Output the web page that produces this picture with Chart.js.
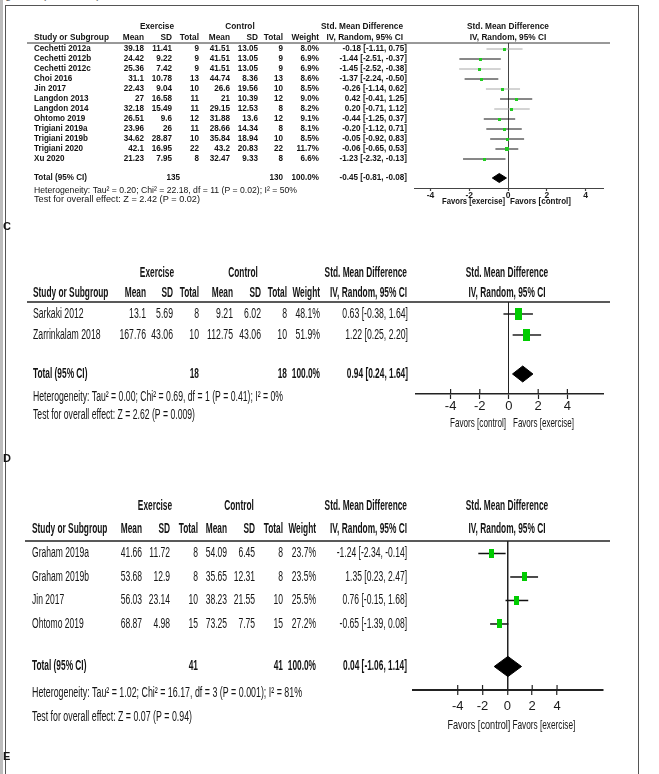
<!DOCTYPE html>
<html><head><meta charset="utf-8">
<script src="https://cdn.jsdelivr.net/npm/chart.js@4/dist/chart.umd.min.js"></script>
<style>
html,body{margin:0;padding:0;background:#fff;}
#page{position:relative;width:659px;height:774px;overflow:hidden;background:#fff;}
#strip{position:absolute;left:0;top:0;width:3px;height:774px;background:#bdbdbd;}
#frame{position:absolute;left:5px;top:5px;width:632px;height:820px;border:1px solid #555;}
#cap{position:absolute;left:-4px;top:-11px;font:11px "Liberation Sans",Arial,sans-serif;color:#555;}
canvas{position:absolute;left:0;}
</style></head><body>
<div id="page"><div id="strip"></div><div id="frame"></div><div id="cap">Figure 3. (Continued)</div>
<canvas id="cC" width="659" height="240" style="top:0px;width:659px;height:240px"></canvas>
<canvas id="cD" width="659" height="250" style="top:240px;width:659px;height:250px"></canvas>
<canvas id="cE" width="659" height="284" style="top:490px;width:659px;height:284px"></canvas>
</div>
<script>
// ---------------- DATA: panel C ----------------
const studiesC = ['Cechetti 2012a','Cechetti 2012b','Cechetti 2012c','Choi 2016','Jin 2017','Langdon 2013','Langdon 2014','Ohtomo 2019','Trigiani 2019a','Trigiani 2019b','Trigiani 2020','Xu 2020'];
const exMeanC = [39.18,24.42,25.36,31.1,22.43,27,32.18,26.51,23.96,34.62,42.1,21.23];
const exSDC   = [11.41,9.22,7.42,10.78,9.04,16.58,15.49,9.6,26,28.87,16.95,7.95];
const exNC    = [9,9,9,13,10,11,11,12,11,10,22,8];
const ctMeanC = [41.51,41.51,41.51,44.74,26.6,21,29.15,31.88,28.66,35.84,43.2,32.47];
const ctSDC   = [13.05,13.05,13.05,8.36,19.56,10.39,12.53,13.6,14.34,18.94,20.83,9.33];
const ctNC    = [9,9,9,13,10,12,8,12,8,10,22,8];
const weightC = [8.0,6.9,6.9,8.6,8.5,9.0,8.2,9.1,8.1,8.5,11.7,6.6];
const smdC    = [-0.18,-1.44,-1.45,-1.37,-0.26,0.42,0.20,-0.44,-0.20,-0.05,-0.06,-1.23];
const loC     = [-1.11,-2.51,-2.52,-2.24,-1.14,-0.41,-0.71,-1.25,-1.12,-0.92,-0.65,-2.32];
const hiC     = [0.75,-0.37,-0.38,-0.50,0.62,1.25,1.12,0.37,0.71,0.83,0.53,-0.13];
const totalsC = [135,130];
const pooledC = [-0.45,-0.81,-0.08];
const hetC  = 'Heterogeneity: Tau² = 0.20; Chi² = 22.18, df = 11 (P = 0.02); I² = 50%';
const testC = 'Test for overall effect: Z = 2.42 (P = 0.02)';
const favorsC = ['Favors [exercise]','Favors [control]'];

// ---------------- DATA: panel D ----------------
const studiesD = ['Sarkaki 2012','Zarrinkalam 2018'];
const exMeanD = [13.1,167.76];
const exSDD   = [5.69,43.06];
const exND    = [8,10];
const ctMeanD = [9.21,112.75];
const ctSDD   = [6.02,43.06];
const ctND    = [8,10];
const weightD = [48.1,51.9];
const smdD    = [0.63,1.22];
const loD     = [-0.38,0.25];
const hiD     = [1.64,2.20];
const totalsD = [18,18];
const pooledD = [0.94,0.24,1.64];
const hetD  = 'Heterogeneity: Tau² = 0.00; Chi² = 0.69, df = 1 (P = 0.41); I² = 0%';
const testD = 'Test for overall effect: Z = 2.62 (P = 0.009)';
const favorsD = ['Favors [control]','Favors [exercise]'];

// ---------------- DATA: panel E ----------------
const studiesE = ['Graham 2019a','Graham 2019b','Jin 2017','Ohtomo 2019'];
const exMeanE = [41.66,53.68,56.03,68.87];
const exSDE   = [11.72,12.9,23.14,4.98];
const exNE    = [8,8,10,15];
const ctMeanE = [54.09,35.65,38.23,73.25];
const ctSDE   = [6.45,12.31,21.55,7.75];
const ctNE    = [8,8,10,15];
const weightE = [23.7,23.5,25.5,27.2];
const smdE    = [-1.24,1.35,0.76,-0.65];
const loE     = [-2.34,0.23,-0.15,-1.39];
const hiE     = [-0.14,2.47,1.68,0.08];
const totalsE = [41,41];
const pooledE = [0.04,-1.06,1.14];
const hetE  = 'Heterogeneity: Tau² = 1.02; Chi² = 16.17, df = 3 (P = 0.001); I² = 81%';
const testE = 'Test for overall effect: Z = 0.07 (P = 0.94)';
const favorsE = ['Favors [control]','Favors [exercise]'];

const tickValues = [-4,-2,0,2,4];
const colHeaders = ['Mean','SD','Total','Mean','SD','Total','Weight'];

// ---------------- LAYOUT / STYLE ----------------
const LS = '"Liberation Sans", Arial, sans-serif';
const layoutC = {
  id:'cC', H:240, top:43, bottom:188, left:414, right:603, axisH:30,
  xMin:-4.85, xMax:4.9, yMin:-0.6, yMax:13.9, totalRow:12.9, dHalf:0.45,
  h1:27, h2:38, het:191, test:200, fav:202, letter:'C', letterY:227,
  studyX:34, cols:[144,172,199,230,258,283,319,407], grpX:[157,240], smdHdrX:403, plotHdrX:508, totX:[180,283],
  ruleX0:27, ruleX1:610, ruleW:1, ruleColor:'#333',
  hdrFont:'bold 9px '+LS, hdrSx:0.92, rowFont:'bold 9px '+LS, rowSx:0.9, totFont:'bold 9px '+LS, totSx:0.9,
  noteFont:'9px '+LS, hetW:263, testW:166, favFont:'bold 9px '+LS, favW:[63,61], favGap:[3,2],
  tickFont:{family:'"Liberation Sans", Arial, sans-serif', size:8.5, weight:'bold'}, tickLen:3, tickPad:0, tickUp:0,
  axisW:1, axisColor:'#444', zeroColor:'#444', zeroW:1, ciW:1,
  ciColors:['#a8a8a8','#111','#a8a8a8','#111','#a8a8a8','#111','#a8a8a8','#111','#111','#111','#111','#111'],
  k:1.06, aspect:1, sqColor:'#22cc22'
};
const layoutD = {
  id:'cD', H:250, top:62, bottom:154, left:416, right:603, axisH:40,
  xMin:-6.37, xMax:6.44, yMin:-0.571, yMax:3.81, totalRow:2.857, dHalf:0.38,
  h1:33, h2:53, het:157, test:175, fav:183, letter:'D', letterY:219,
  studyX:33, cols:[146,173,199,233,261,287,320,408], grpX:[157,243], smdHdrX:407, plotHdrX:507, totX:[199,287],
  ruleX0:27, ruleX1:610, ruleW:1.5, ruleColor:'#222',
  hdrFont:'bold 14px '+LS, hdrSx:0.595, rowFont:'14px '+LS, rowSx:0.62, totFont:'bold 14px '+LS, totSx:0.595,
  noteFont:'14px '+LS, hetW:250, testW:162, favFont:'13.5px '+LS, favW:[56,61], favGap:[3,4],
  tickFont:{family:'"Liberation Sans", Arial, sans-serif', size:13}, tickLen:5, tickPad:0, tickUp:5,
  axisW:1.5, axisColor:'#222', zeroColor:'#222', zeroW:1, ciW:1.4,
  ciColors:null, k:1.0, aspect:1.7, sqColor:'#00cc00'
};
const layoutE = {
  id:'cE', H:284, top:51, bottom:200, left:413, right:603, axisH:45,
  xMin:-7.6, xMax:7.7, yMin:-0.532, yMax:5.81, totalRow:4.81, dHalf:0.43,
  h1:16, h2:39, het:203, test:227, fav:235, letter:'E', letterY:267,
  studyX:32, cols:[142,170,198,227,255,283,316,407], grpX:[155,239], smdHdrX:407, plotHdrX:507, totX:[198,283],
  ruleX0:25, ruleX1:610, ruleW:1.5, ruleColor:'#222',
  hdrFont:'bold 14px '+LS, hdrSx:0.595, rowFont:'14px '+LS, rowSx:0.61, totFont:'bold 14px '+LS, totSx:0.595,
  noteFont:'14px '+LS, hetW:270, testW:160, favFont:'13.5px '+LS, favW:[63,63], favGap:[-3,5],
  tickFont:{family:'"Liberation Sans", Arial, sans-serif', size:13}, tickLen:5, tickPad:4, tickUp:5,
  axisW:2, axisColor:'#222', zeroColor:'#222', zeroW:1.5, ciW:1.5,
  ciColors:null, k:1.0, aspect:1.8, sqColor:'#00cc00'
};

// ---------------- HELPERS ----------------
function f2(v){ return (v < 0 ? '-' : '') + Math.abs(v).toFixed(2); }
function ciStr(s, lo, hi){ return f2(s) + ' [' + f2(lo) + ', ' + f2(hi) + ']'; }
function rectImg(w, h, color){
  const c = document.createElement('canvas'); c.width = w; c.height = h;
  const g = c.getContext('2d'); g.fillStyle = color; g.fillRect(0, 0, w, h); return c;
}
function T(ctx, s, x, y, align, font, sx, w){
  ctx.save();
  ctx.font = font; ctx.fillStyle = '#141414'; ctx.textBaseline = 'middle'; ctx.textAlign = align;
  let k = sx || 1;
  if (w) k = w / ctx.measureText(s).width;
  ctx.translate(x, y); ctx.scale(k, 1); ctx.fillText(s, 0, 0);
  ctx.restore();
}
function drawTable(chart, L, D){
  const ctx = chart.ctx, xs = chart.scales.x, ys = chart.scales.y, ca = chart.chartArea;
  const H = L.hdrFont, hs = L.hdrSx;
  T(ctx, 'Exercise', L.grpX[0], L.h1, 'center', H, hs);
  T(ctx, 'Control', L.grpX[1], L.h1, 'center', H, hs);
  T(ctx, 'Std. Mean Difference', L.smdHdrX, L.h1, 'right', H, hs);
  T(ctx, 'Std. Mean Difference', L.plotHdrX, L.h1, 'center', H, hs);
  T(ctx, 'Study or Subgroup', L.studyX, L.h2, 'left', H, hs);
  colHeaders.forEach((c, j) => T(ctx, c, L.cols[j], L.h2, 'right', H, hs));
  T(ctx, 'IV, Random, 95% CI', L.smdHdrX, L.h2, 'right', H, hs);
  T(ctx, 'IV, Random, 95% CI', L.plotHdrX, L.h2, 'center', H, hs);
  ctx.save(); ctx.strokeStyle = L.ruleColor; ctx.lineWidth = L.ruleW;
  ctx.beginPath(); ctx.moveTo(L.ruleX0, ca.top); ctx.lineTo(L.ruleX1, ca.top); ctx.stroke(); ctx.restore();
  for (let i = 0; i < D.studies.length; i++){
    const y = ys.getPixelForValue(i);
    T(ctx, D.studies[i], L.studyX, y, 'left', L.rowFont, L.rowSx);
    const vals = [D.exMean[i], D.exSD[i], D.exN[i], D.ctMean[i], D.ctSD[i], D.ctN[i]].map(String);
    vals.push(D.weight[i].toFixed(1) + '%');
    vals.push(ciStr(D.smd[i], D.lo[i], D.hi[i]));
    vals.forEach((v, j) => T(ctx, v, L.cols[j], y, 'right', L.rowFont, L.rowSx));
  }
  const ty = ys.getPixelForValue(L.totalRow);
  T(ctx, 'Total (95% CI)', L.studyX, ty, 'left', L.totFont, L.totSx);
  T(ctx, String(D.totals[0]), L.totX[0], ty, 'right', L.totFont, L.totSx);
  T(ctx, String(D.totals[1]), L.totX[1], ty, 'right', L.totFont, L.totSx);
  T(ctx, '100.0%', L.cols[6], ty, 'right', L.totFont, L.totSx);
  T(ctx, ciStr(D.pooled[0], D.pooled[1], D.pooled[2]), L.cols[7], ty, 'right', L.totFont, L.totSx);
  T(ctx, D.het, L.studyX, L.het, 'left', L.noteFont, 0, L.hetW);
  T(ctx, D.test, L.studyX, L.test, 'left', L.noteFont, 0, L.testW);
  const z = xs.getPixelForValue(0);
  T(ctx, D.favors[0], z - L.favGap[0], L.fav, 'right', L.favFont, 0, L.favW[0]);
  T(ctx, D.favors[1], z + L.favGap[1], L.fav, 'left', L.favFont, 0, L.favW[1]);
  if (L.tickUp){
    ctx.save(); ctx.strokeStyle = L.axisColor; ctx.lineWidth = 1.2;
    tickValues.forEach(v => { if (v !== 0){ const x = xs.getPixelForValue(v);
      ctx.beginPath(); ctx.moveTo(x, ca.bottom); ctx.lineTo(x, ca.bottom - L.tickUp); ctx.stroke(); } });
    ctx.restore();
  }
  T(ctx, L.letter, 3, L.letterY, 'left', 'bold 11px ' + LS, 1);
}

function makePanel(L, D){
  const ds = [];
  for (let i = 0; i < D.studies.length; i++){
    ds.push({type:'line', data:[{x:D.lo[i], y:i}, {x:D.hi[i], y:i}],
      borderColor: L.ciColors ? L.ciColors[i] : '#111', borderWidth: L.ciW,
      pointRadius:0, fill:false, tension:0, order:3});
  }
  ds.push({type:'scatter', data: D.smd.map((v, i) => ({x:v, y:i})),
    pointStyle: D.weight.map(w => { const s = Math.sqrt(w);
      return rectImg(Math.max(2, Math.round(L.k * s)), Math.max(2, Math.round(L.k * s * L.aspect)), L.sqColor); }),
    pointRadius:3, order:1});
  const t = L.totalRow, h = L.dHalf, P = D.pooled;
  ds.push({type:'line', data:[{x:P[1], y:t}, {x:P[0], y:t - h}, {x:P[2], y:t}, {x:P[0], y:t + h}, {x:P[1], y:t}],
    borderColor:'#000', backgroundColor:'#000', borderWidth:1, pointRadius:0, fill:'shape', tension:0, order:2});

  new Chart(document.getElementById(L.id), {
    type:'scatter',
    data:{datasets: ds},
    options:{
      responsive:false, maintainAspectRatio:false, animation:false, devicePixelRatio:1, events:[],
      layout:{padding:{left:L.left, right:659 - L.right, top:L.top, bottom:L.H - L.bottom - L.axisH}},
      plugins:{legend:{display:false}, tooltip:{enabled:false}},
      scales:{
        x:{type:'linear', position:'bottom', min:L.xMin, max:L.xMax,
          afterBuildTicks: a => { a.ticks = tickValues.map(v => ({value:v})); },
          afterFit: a => { a.height = L.axisH; },
          border:{display:true, color:L.axisColor, width:L.axisW},
          grid:{drawOnChartArea:true, drawTicks:true, tickLength:L.tickLen,
            color: c => (c.tick && c.tick.value === 0) ? L.zeroColor : 'rgba(0,0,0,0)',
            lineWidth: L.zeroW, tickColor:L.axisColor, tickWidth:1.2},
          ticks:{font:L.tickFont, color:'#1a1a1a', padding:L.tickPad, maxRotation:0, autoSkip:false,
            callback: v => String(v)}
        },
        y:{type:'linear', display:false, reverse:true, min:L.yMin, max:L.yMax}
      }
    },
    plugins:[{id:'table_' + L.id, afterDraw(chart){ drawTable(chart, L, D); }}]
  });
}

makePanel(layoutC, {studies:studiesC, exMean:exMeanC, exSD:exSDC, exN:exNC, ctMean:ctMeanC, ctSD:ctSDC, ctN:ctNC,
  weight:weightC, smd:smdC, lo:loC, hi:hiC, totals:totalsC, pooled:pooledC, het:hetC, test:testC, favors:favorsC});
makePanel(layoutD, {studies:studiesD, exMean:exMeanD, exSD:exSDD, exN:exND, ctMean:ctMeanD, ctSD:ctSDD, ctN:ctND,
  weight:weightD, smd:smdD, lo:loD, hi:hiD, totals:totalsD, pooled:pooledD, het:hetD, test:testD, favors:favorsD});
makePanel(layoutE, {studies:studiesE, exMean:exMeanE, exSD:exSDE, exN:exNE, ctMean:ctMeanE, ctSD:ctSDE, ctN:ctNE,
  weight:weightE, smd:smdE, lo:loE, hi:hiE, totals:totalsE, pooled:pooledE, het:hetE, test:testE, favors:favorsE});
</script>
</body></html>
